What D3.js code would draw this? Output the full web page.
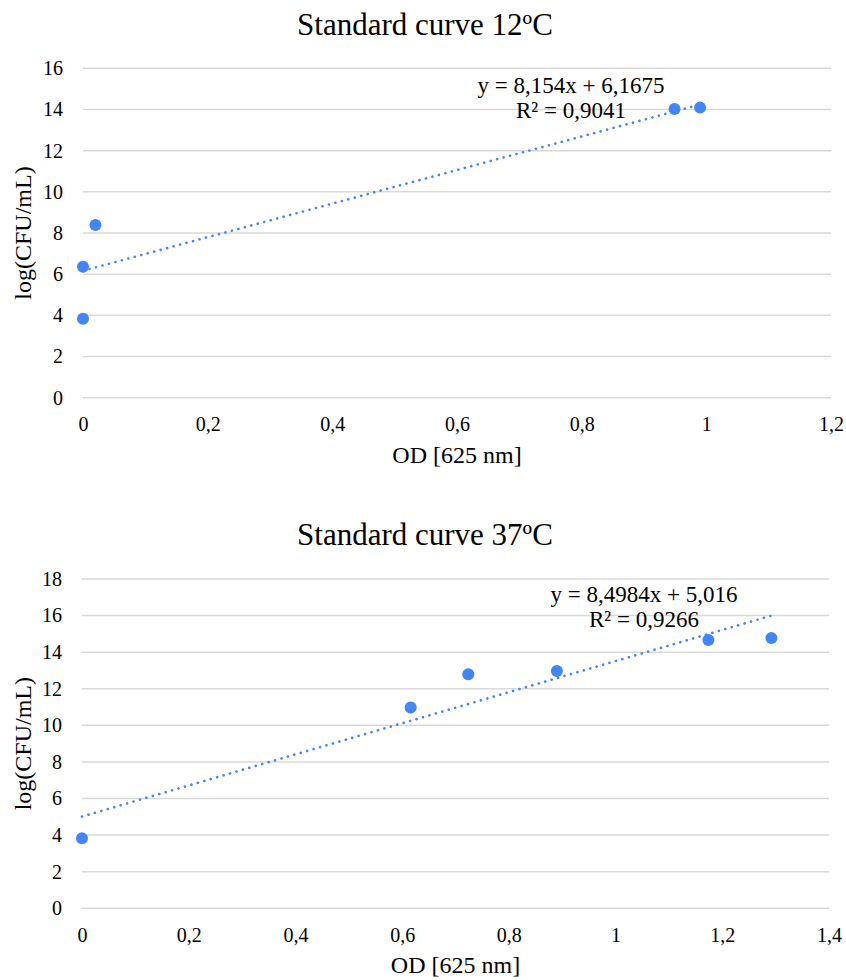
<!DOCTYPE html>
<html>
<head>
<meta charset="utf-8">
<script src="https://cdn.jsdelivr.net/npm/d3@7"></script>
<style>
  html, body { margin: 0; padding: 0; background: #fff; }
  svg { display: block; }
  text { font-family: "Liberation Serif", "Times New Roman", serif; fill: #000; }
</style>
</head>
<body>
<svg id="chart" width="846" height="980"></svg>
<script>
// ---- Data ----
const titles = ["Standard curve 12ºC", "Standard curve 37ºC"];
const xLabel = "OD [625 nm]";
const yLabel = "log(CFU/mL)";

const od12 = [0, 0, 0.02, 0.949, 0.99];
const log12 = [3.84, 6.36, 8.39, 14.02, 14.09];
const slope12 = 8.154, intercept12 = 6.1675;
const eq12 = ["y = 8,154x + 6,1675", "R² = 0,9041"];
const xTicks12 = [0, 0.2, 0.4, 0.6, 0.8, 1, 1.2];
const yTicks12 = [0, 2, 4, 6, 8, 10, 12, 14, 16];

const od37 = [0, 0.616, 0.724, 0.890, 1.174, 1.292];
const log37 = [3.83, 10.97, 12.79, 12.97, 14.67, 14.78];
const slope37 = 8.4984, intercept37 = 5.016;
const eq37 = ["y = 8,4984x + 5,016", "R² = 0,9266"];
const xTicks37 = [0, 0.2, 0.4, 0.6, 0.8, 1, 1.2, 1.4];
const yTicks37 = [0, 2, 4, 6, 8, 10, 12, 14, 16, 18];

const color = "#4285f4";
const fmt = v => String(+v.toFixed(2)).replace(".", ",");
const serif = "'Liberation Serif', 'Times New Roman', serif";

const svg = d3.select("#chart");

function drawChart(cfg) {
  const g = svg.append("g");
  const x = d3.scaleLinear().domain([0, cfg.xMax]).range([cfg.left, cfg.right]);
  const y = d3.scaleLinear().domain([0, cfg.yMax]).range([cfg.bottom, cfg.top]);

  // title
  g.append("text").attr("x", cfg.titleX).attr("y", cfg.titleY)
    .attr("text-anchor", "middle").style("font-size", "31px").text(cfg.title);

  // gridlines
  g.append("g").selectAll("line").data(cfg.yTicks).join("line")
    .attr("x1", cfg.left).attr("x2", cfg.right)
    .attr("y1", d => y(d)).attr("y2", d => y(d))
    .attr("stroke", "#d9d9d9").attr("stroke-width", 1.5);

  // y axis labels
  const yAxis = d3.axisLeft(y).tickValues(cfg.yTicks).tickSize(0).tickPadding(0).tickFormat(fmt);
  const ya = g.append("g").attr("transform", `translate(${cfg.left - 20},0)`).call(yAxis)
    .attr("font-family", serif).attr("font-size", 20);
  ya.select(".domain").remove();
  ya.selectAll("text").style("font-family", serif).style("font-size", "20px").attr("fill", "#000");

  // x axis labels
  const xAxis = d3.axisBottom(x).tickValues(cfg.xTicks).tickSize(0).tickPadding(0).tickFormat(fmt);
  const xa = g.append("g").attr("transform", `translate(0,${cfg.bottom + 19})`).call(xAxis)
    .attr("font-family", serif).attr("font-size", 20);
  xa.select(".domain").remove();
  xa.selectAll("text").style("font-family", serif).style("font-size", "20px").attr("fill", "#000");

  // axis titles
  g.append("text").attr("x", (cfg.left + cfg.right) / 2).attr("y", cfg.bottom + 65)
    .attr("text-anchor", "middle").style("font-size", "24px").text(xLabel);
  g.append("text")
    .attr("transform", `translate(31,${(cfg.top + cfg.bottom) / 2}) rotate(-90)`)
    .attr("text-anchor", "middle").style("font-size", "24px").text(yLabel);

  // trendline
  const x0 = d3.min(cfg.xs), x1 = d3.max(cfg.xs);
  g.append("line")
    .attr("x1", x(x0)).attr("y1", y(cfg.slope * x0 + cfg.intercept))
    .attr("x2", x(x1)).attr("y2", y(cfg.slope * x1 + cfg.intercept))
    .attr("stroke", color).attr("stroke-width", 2.6)
    .attr("stroke-linecap", "round").attr("stroke-dasharray", "0.1 6.6");

  // points
  g.append("g").selectAll("circle").data(cfg.xs.map((d, i) => [d, cfg.ys[i]])).join("circle")
    .attr("cx", d => x(d[0])).attr("cy", d => y(d[1])).attr("r", 6)
    .attr("fill", color);

  // equation
  const eq = g.append("text").attr("text-anchor", "middle").style("font-size", "23px");
  eq.append("tspan").attr("x", cfg.eqX).attr("y", cfg.eqY).text(cfg.eq[0]);
  eq.append("tspan").attr("x", cfg.eqX).attr("y", cfg.eqY + 24.5).text(cfg.eq[1]);
}

drawChart({
  title: titles[0], titleX: 425, titleY: 35,
  left: 83, right: 831, top: 68.3, bottom: 397.7,
  xMax: 1.2, yMax: 16, xTicks: xTicks12, yTicks: yTicks12,
  xs: od12, ys: log12, slope: slope12, intercept: intercept12,
  eq: eq12, eqX: 571, eqY: 93
});

drawChart({
  title: titles[1], titleX: 425, titleY: 545,
  left: 82, right: 829, top: 579, bottom: 908.3,
  xMax: 1.4, yMax: 18, xTicks: xTicks37, yTicks: yTicks37,
  xs: od37, ys: log37, slope: slope37, intercept: intercept37,
  eq: eq37, eqX: 644, eqY: 602
});
</script>
</body>
</html>
